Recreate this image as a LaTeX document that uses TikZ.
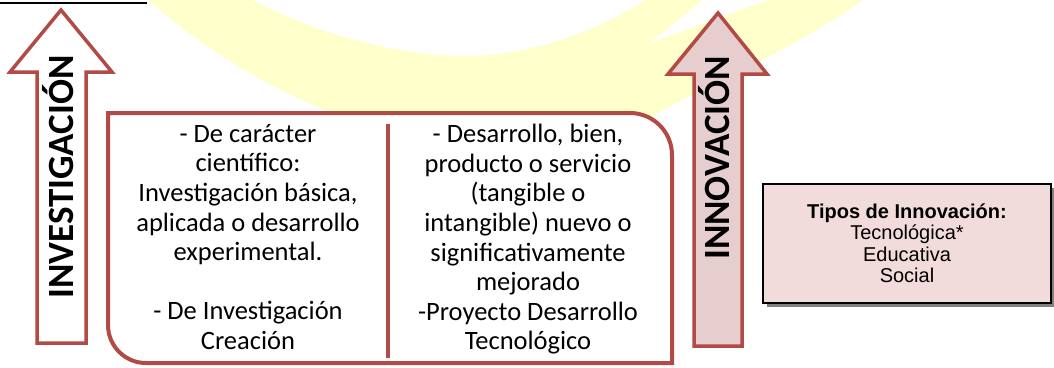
\documentclass[tikz,border=0pt]{standalone}
\usepackage{fontspec}
\setmainfont{Carlito}
\newfontfamily\arialfont{Liberation Sans}
\usetikzlibrary{shadows}
\definecolor{arrowred}{RGB}{178,74,70}
\definecolor{pinkfill}{RGB}{230,206,207}
\definecolor{boxpink}{RGB}{242,220,219}
\definecolor{paleyellow}{RGB}{255,255,204}
\begin{document}
\begin{tikzpicture}[x=1pt, y=-1pt,
    redline/.style={draw=arrowred, line width=3.5pt, line join=miter},
    coltext/.style={align=center, inner sep=0pt, anchor=north, font=\fontsize{26.5}{29.6}\selectfont},
    arrowlabel/.style={rotate=90, inner sep=0pt, font=\fontsize{37}{37}\selectfont\bfseries},
    tipbox/.style={draw=black, line width=1.5pt, fill=boxpink, minimum width=288pt, minimum height=119pt,
        align=center, font=\arialfont\fontsize{20}{21.5}\selectfont,
        drop shadow={shadow xshift=4pt, shadow yshift=-4pt, fill=gray, opacity=1}}]
        \useasboundingbox (0,0) rectangle (1054,367);
        \fill[paleyellow] (148,0) .. controls (200,45) and (260,85) .. (335,114) -- (335,200) -- (600,200) -- (650,117)
            .. controls (720,80) and (800,45) .. (863,0) -- (768,0) -- (650,43) -- (703,0) -- (645,0)
            .. controls (600,30) and (530,56) .. (465,56) .. controls (400,56) and (320,35) .. (252,0) -- cycle;
        \draw[black, line width=1.3pt] (0,3) -- (147,3);

        \draw[redline, fill=white] (61,10) -- (112,72) -- (86,72) -- (86,343) -- (37,343) -- (37,72) -- (10,72) -- cycle;
        \node[arrowlabel] (investigacion) at (58,177) {INVESTIGACIÓN};

        \draw[redline, fill=pinkfill] (718,13) -- (767,74) -- (742,74) -- (742,346) -- (694,346) -- (694,74) -- (668,74) -- cycle;
        \node[arrowlabel] (innovacion) at (714,158) {INNOVACIÓN};

        \draw[draw=arrowred, line width=4pt, fill=white] (108,113) -- (630,113) .. controls (653.2,113) and (672,131.8) .. (672,155)
            -- (672,363) -- (146,363) .. controls (125,363) and (108,346) .. (108,325) -- cycle;
        \draw[draw=arrowred, line width=4pt] (388,124) -- (388,358);
        \node[coltext] (cientifico) at (248,124) {- De carácter\\científico:\\Investigación básica,\\aplicada o desarrollo\\experimental.\\[29.6pt]- De Investigación\\Creación};
        \node[coltext] (desarrollo) at (528,124) {- Desarrollo, bien,\\producto o servicio\\(tangible o\\intangible) nuevo o\\significativamente\\mejorado\\-Proyecto Desarrollo\\Tecnológico};

        \node[tipbox] (tipos) at (907,243.5) {\textbf{Tipos de Innovación:}\\Tecnológica*\\Educativa\\Social};
    \end{tikzpicture}
\end{document}
